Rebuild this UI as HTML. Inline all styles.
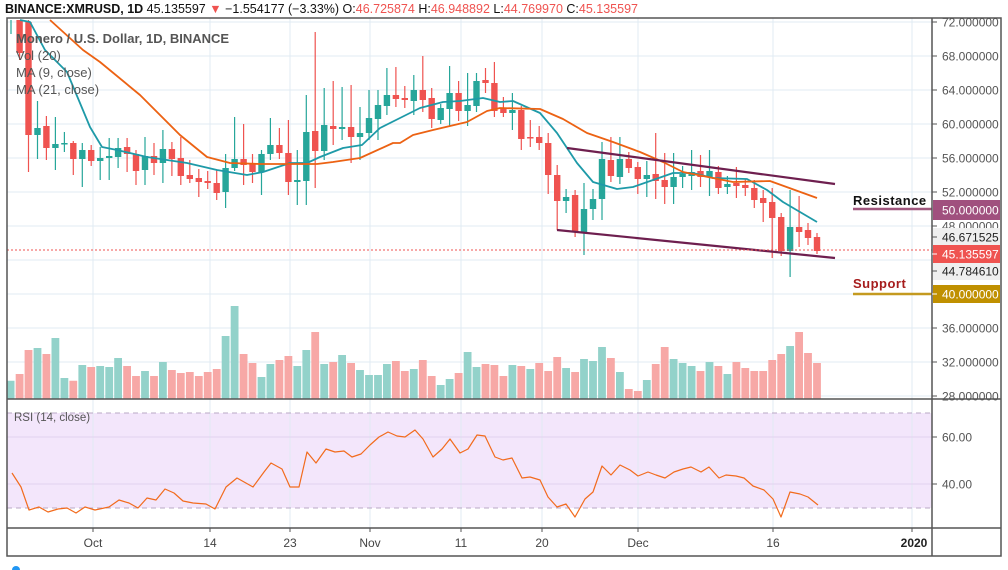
<!DOCTYPE html>
<html><head><meta charset="utf-8"><style>
html,body{margin:0;padding:0;background:#fff;width:1008px;height:570px;overflow:hidden}
svg{display:block}
text{font-family:"Liberation Sans",sans-serif}
</style></head><body>
<svg width="1008" height="570" xmlns="http://www.w3.org/2000/svg">
<rect x="7" y="413" width="925" height="95" fill="#f3e6fb"/>
<g stroke="#e1ebf3" stroke-width="1">
<path d="M93 18V528M210 18V528M290 18V528M370 18V528M461 18V528M542 18V528M638 18V528M773 18V528M912 18V528"/>
<path d="M7 22H932M7 56H932M7 90H932M7 124H932M7 158H932M7 192H932M7 226H932M7 260H932M7 294H932M7 328H932M7 362H932M7 396H932"/>
</g>
<path d="M7 437H932M7 484H932" stroke="#e2d2ef"/>
<path d="M7 413H932M7 508H932" stroke="#b8a8c4" stroke-dasharray="5,4"/>
<!-- volume -->
<path stroke="#93d2ca" stroke-width="7.8" d="M10.6 380.7V399M37.5 348V399M55.4 338V399M64.4 378V399M82.3 365V399M100.2 366V399M109.2 367V399M118.1 358V399M145 371V399M162.9 362V399M225.6 336V399M234.6 306V399M261.5 377V399M270.4 364V399M297.3 366V399M306.3 350V399M324.2 364V399M342.1 355V399M360 370V399M369 375V399M378 375V399M386.9 364V399M413.8 369V399M440.7 385V399M449.6 379V399M467.6 352V399M476.5 367V399M512.4 365V399M530.3 369V399M566.1 368V399M584 359V399M593 361V399M602 347V399M619.9 372V399M646.8 380V399M673.6 359V399M682.6 363V399M691.6 366V399M709.5 362V399M727.4 374V399M790.1 346V399"/>
<path stroke="#f7a8a6" stroke-width="7.8" d="M19.6 374V399M28.5 350V399M46.4 354V399M73.3 380.7V399M91.2 367V399M127.1 366V399M136 376V399M154 376V399M171.9 370V399M180.8 373V399M189.8 372V399M198.8 376V399M207.7 372V399M216.7 369V399M243.6 354V399M252.5 363V399M279.4 360V399M288.4 356V399M315.2 332V399M333.2 362V399M351.1 363V399M395.9 361V399M404.8 371V399M422.8 360V399M431.7 376V399M458.6 373V399M485.5 364V399M494.4 365V399M503.4 376V399M521.3 366V399M539.2 363V399M548.2 371V399M557.2 357V399M575.1 372V399M610.9 358V399M628.8 389V399M637.8 391V399M655.7 364V399M664.7 347V399M700.5 371V399M718.4 366V399M736.4 362V399M745.3 368V399M754.3 371V399M763.2 371V399M772.2 360V399M781.2 354V399M799.1 332V399M808 353V399M817 363V399"/>
<!-- candles green -->
<path stroke="#26a69a" stroke-width="1.2" d="M11 20V34M37.5 101V159M55.4 117V170M64.4 132V152M82.3 143V187M100.2 147V180M109.2 138V180M118.1 138V168M145 137V185M162.9 130V183M225.6 154V208M234.6 117V171M261.5 150V195M270.4 118V160M297.3 150V205M306.3 95V205M324.2 88V160M342.1 87V140M360 107V160M369 90V140M378 90V140M386.9 68V115M413.8 75V115M440.7 104V124M449.6 66V126M467.6 73V126M476.5 73V112M512.4 93V130M566.1 189V213M584 183V255M593 189V220M602 142V220M619.9 137V184M646.8 161V197M673.6 153V204M682.6 166V188M691.6 150V190M709.5 150V196M727.4 176V194M790.1 190V277"/>
<path stroke="#26a69a" stroke-width="6.4" d="M37.5 128V135M55.4 144V148M64.4 143V144.5M82.3 150V159M100.2 158V161M109.2 156V158M118.1 148V157M145 156V170M162.9 149V163M225.6 168V192M234.6 159V168M261.5 154V172M270.4 145V154M297.3 180V182M306.3 132V181M324.2 125V151M342.1 127V129M360 133V137M369 118V133M378 105V119M386.9 95V106M413.8 90V101M440.7 108V120M449.6 93V109M467.6 105V111M476.5 81V106M512.4 110V113M566.1 197V201M584 209V232M593 199V209M602 159V199M619.9 159V177M646.8 175V179M673.6 177V187M682.6 174V177M691.6 172V176M709.5 171V177M727.4 184V187M790.1 227V251"/>
<!-- candles red -->
<path stroke="#ef5350" stroke-width="1.2" d="M19.6 20V60M28.5 20V172M46.4 116V160M73.3 141V175M91.2 145V166M127.1 138V172M136 150V185M154 143V175M171.9 142V176M180.8 137V185M189.8 160V183M198.8 169V197M207.7 171V189M216.7 170V200M243.6 124V185M252.5 154V183M279.4 128V159M288.4 120V195M315.2 32V188M333.2 81V145M351.1 85V163M395.9 67V107M404.8 86V108M422.8 56V112M431.7 88V128M458.6 81V121M485.5 68V93M494.4 62V117M503.4 97V117M521.3 106V150M530.3 120V147M539.2 126V150M548.2 133V194M557.2 165V230M575.1 190V237M610.9 137V182M628.8 152V173M637.8 162V194M655.7 133V199M664.7 153V204M700.5 155V187M718.4 166V194M736.4 167V198M745.3 179V196M754.3 180V208M763.2 190V222M772.2 188V258M781.2 213V256M799.1 196V247M808 223V245M817 233V254"/>
<path stroke="#ef5350" stroke-width="6.4" d="M19.6 20V53M28.5 22V135M46.4 126V148M73.3 143V159M91.2 150V161M127.1 147V154M136 154V171M154 156V163M171.9 149V159M180.8 158V176M189.8 175V179M198.8 178V182M207.7 181V183M216.7 183V193M243.6 159V165M252.5 163V172M279.4 145V153M288.4 153V182M315.2 131V151M333.2 126V129M351.1 127V137M395.9 95V99M404.8 98V100M422.8 90V100M431.7 98V119M458.6 93V111M485.5 80V83M494.4 83V111M503.4 108V113M521.3 110V139M530.3 137V138.5M539.2 137V143M548.2 143V175M557.2 175V201M575.1 195V232M610.9 160V176M628.8 159V168M637.8 167V179M655.7 174V181M664.7 180V187M700.5 171V177M718.4 172V188M736.4 183V186M745.3 185V188M754.3 188V200M763.2 198V203M772.2 202V218M781.2 217V251M799.1 227V232M808 230V238M817 237V251"/>
<!-- MAs -->
<polyline fill="none" stroke="#1e9aa8" stroke-width="1.8" stroke-linejoin="round" points="20,20 30,22 45,50 67,72 90,127 102,147 117,150 147,157 187,163 217,170 247,175 263,172 290,163 307,163 320,157 343,148 362,145 380,128 400,118 420,108 443,102 460,101 483,98 500,102 513,101 540,113 557,133 577,163 593,182 617,189 633,187 653,180 673,173 693,173 713,178 747,179 767,190 783,202 817,222"/>
<polyline fill="none" stroke="#ec6213" stroke-width="1.8" stroke-linejoin="round" points="50,20 83,50 100,62 140,95 180,135 207,157 230,163 260,164 290,164 317,164 333,162 360,158 393,143 400,143 413,135 433,130 467,122 487,111 500,108 540,109 563,119 587,133 613,142 640,152 663,162 683,172 733,182 770,181 817,198"/>
<path d="M567 148L835 184M557 230L835 258" stroke="#6e1f4f" stroke-width="2.2"/>
<path d="M7 250H932" stroke="#ef5350" stroke-dasharray="2,2"/>
<!-- RSI -->
<polyline fill="none" stroke="#f26b1d" stroke-width="1.2" stroke-linejoin="round" points="12,473 21,487 29,510 39,507 48,512 58,509 67,508 76,513 85,507 95,510 109,507 119,500 129,503 138,508 147,498 156,500 165,489 174,493 183,501 193,503 206,504 215,509 226,487 237,478 253,487 264,472 271,463 282,469 290,487 299,487 307,452 316,463 326,449 335,452 344,451 352,457 361,454 370,445 379,437 388,432 397,436 405,437 415,430 423,439 433,457 442,449 450,439 460,453 468,449 477,435 485,436 495,457 503,460 512,458 522,478 530,477 540,480 548,497 557,507 566,504 575,517 585,499 593,492 602,466 611,475 620,465 630,470 638,476 648,472 656,475 665,478 674,472 683,469 691,467 701,472 709,467 719,478 726,475 736,476 744,478 753,486 764,490 773,499 781,517 790,492 800,494 808,497 818,505"/>
<!-- S/R -->
<text x="853" y="205" fill="#111" font-size="13" font-weight="bold" letter-spacing="0.5">Resistance</text>
<path d="M853 209H932" stroke="#a0577e" stroke-width="2.5"/>
<text x="853" y="288" fill="#a61c1c" font-size="13" font-weight="bold" letter-spacing="0.5">Support</text>
<path d="M853 294H932" stroke="#c49a20" stroke-width="2.5"/>
<!-- frame -->
<rect x="932" y="18" width="70" height="538" fill="#fff"/>
<path d="M7 18H1001V556H7ZM932 18V556M7 399H1001M7 528H1001" fill="none" stroke="#555" stroke-width="1.5"/>
<g fill="#555" font-size="12">
<path d="M932 22h5M932 56h5M932 90h5M932 124h5M932 158h5M932 192h5M932 226h5M932 328h5M932 362h5M932 396h5M932 437h5M932 484h5" stroke="#555"/>
<text x="942" y="26.5">72.000000</text><text x="942" y="60.5">68.000000</text><text x="942" y="94.5">64.000000</text><text x="942" y="128.5">60.000000</text><text x="942" y="162.5">56.000000</text><text x="942" y="196.5">52.000000</text><text x="942" y="230.5">48.000000</text><text x="942" y="332.5">36.000000</text><text x="942" y="366.5">32.000000</text><text x="942" y="400.5">28.000000</text>
<text x="942" y="441.5">60.00</text><text x="942" y="488.5">40.00</text>
</g>
<rect x="933" y="200" width="67" height="20" fill="#a0507e"/><text x="942" y="214.5" fill="#fff" font-size="12">50.000000</text>
<rect x="933" y="228" width="67" height="18" fill="#efefef"/><text x="942" y="241.5" fill="#222" font-size="12">46.671525</text>
<rect x="933" y="245" width="67" height="18" fill="#ef5350"/><text x="942" y="258.5" fill="#fff" font-size="12">45.135597</text>
<rect x="933" y="263" width="67" height="17" fill="#efefef"/><text x="942" y="275.5" fill="#222" font-size="12">44.784610</text>
<rect x="933" y="285" width="67" height="18" fill="#c09000"/><text x="942" y="298.5" fill="#fff" font-size="12">40.000000</text>
<path d="M932 237h5M932 271h5" stroke="#555"/><path d="M932 254h5M932 294h5" stroke="#fff"/>
<!-- time axis -->
<path d="M93 528v4M210 528v4M290 528v4M370 528v4M461 528v4M542 528v4M638 528v4M773 528v4M912 528v4" stroke="#555"/>
<g fill="#444" font-size="12" text-anchor="middle">
<text x="93" y="547">Oct</text><text x="210" y="547">14</text><text x="290" y="547">23</text><text x="370" y="547">Nov</text><text x="461" y="547">11</text><text x="542" y="547">20</text><text x="638" y="547">Dec</text><text x="773" y="547">16</text><text x="914" y="547" fill="#222" font-weight="bold">2020</text>
</g>
<!-- legends -->
<g fill="#555" font-size="13">
<text x="16" y="43" font-weight="bold">Monero / U.S. Dollar, 1D, BINANCE</text>
<text x="16" y="60">Vol (20)</text><text x="16" y="77">MA (9, close)</text><text x="16" y="94">MA (21, close)</text>
<text x="14" y="421" font-size="11.5">RSI (14, close)</text>
</g>
<text x="5" y="13" font-size="12.5" fill="#111"><tspan font-weight="bold">BINANCE:XMRUSD, 1D</tspan>  45.135597 <tspan fill="#ef5350">▼</tspan> −1.554177 (−3.33%) O:<tspan fill="#ef5350">46.725874</tspan> H:<tspan fill="#ef5350">46.948892</tspan> L:<tspan fill="#ef5350">44.769970</tspan> C:<tspan fill="#ef5350">45.135597</tspan></text>
<circle cx="16" cy="570" r="4" fill="#2196f3"/>
</svg>
</body></html>
